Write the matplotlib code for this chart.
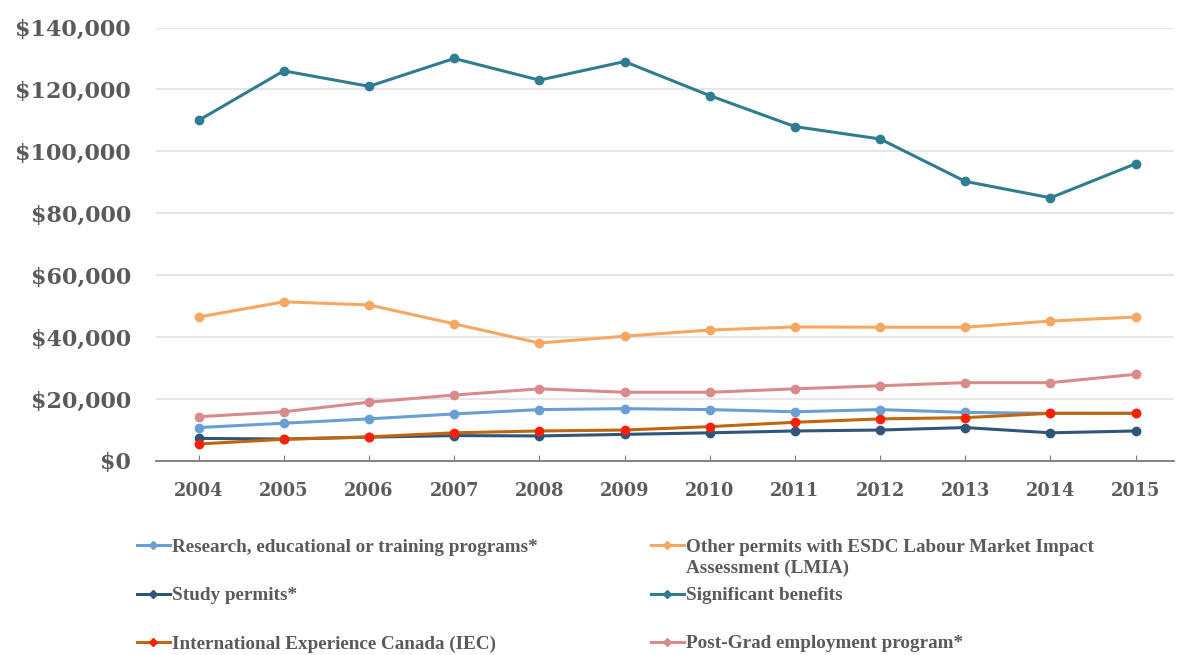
import matplotlib
matplotlib.use("Agg")
import matplotlib.pyplot as plt
from matplotlib.lines import Line2D
from matplotlib.ticker import FuncFormatter

W, H = 1177, 655
years = list(range(2004, 2016))

research = [10800, 12200, 13600, 15200, 16600, 16900, 16600, 15900, 16600, 15700, 15400, 15400]
lmia = [46500, 51400, 50400, 44300, 38100, 40300, 42300, 43300, 43200, 43200, 45200, 46500]
study = [7300, 7100, 7700, 8200, 8100, 8600, 9100, 9700, 10000, 10800, 9100, 9700]
significant = [110000, 126000, 121000, 130000, 123000, 129000, 118000, 108000, 104000, 90300, 85000, 96000]
iec = [5500, 7000, 7800, 9100, 9700, 10000, 11100, 12500, 13600, 14000, 15400, 15400]
postgrad = [14300, 15900, 19000, 21300, 23300, 22200, 22200, 23300, 24300, 25300, 25300, 28000]

labels = ["Research, educational or training programs*",
          "Other permits with ESDC Labour Market Impact\nAssessment (LMIA)",
          "Study permits*",
          "Significant benefits",
          "International Experience Canada (IEC)",
          "Post-Grad employment program*"]

series = [
    (research, "#6a9fd3", "#6a9fd3"),
    (lmia, "#f5a862", "#f5a862"),
    (study, "#2f5679", "#2f5679"),
    (significant, "#2f7d8e", "#2f7d8e"),
    (iec, "#c2650f", "#ff2000"),
    (postgrad, "#d98b8b", "#d98b8b"),
]

gray = "#5a5a5a"
fig = plt.figure(figsize=(W / 100, H / 100), dpi=100)
ax = fig.add_axes([156 / W, 1 - 461 / H, (1174 - 156) / W, (461 - 27.5) / H])

order = [5, 0, 2, 4, 1, 3]
for i in order:
    vals, lc, mc = series[i]
    ax.plot(years, vals, color=lc, lw=2.2, marker="o", ms=6, mfc=mc, mec=mc,
            clip_on=False, zorder=3 + i)

ax.set_xlim(2003.5, 2015.45)
ax.set_ylim(0, 140000)
ax.set_yticks(range(0, 140001, 20000))
ax.set_xticks(years)
ax.yaxis.set_major_formatter(FuncFormatter(lambda v, p: "${:,.0f}".format(v)))
ax.grid(axis="y", color="#e6e6e6", lw=1.5, zorder=0)
for s in ["top", "right", "left"]:
    ax.spines[s].set_visible(False)
ax.spines["bottom"].set_color("#7a7a7a")
ax.spines["bottom"].set_linewidth(1.3)
ax.tick_params(axis="y", length=0, pad=18, labelsize=16, labelcolor=gray)
ax.tick_params(axis="x", direction="in", length=4, color="#7a7a7a", pad=15,
               labelsize=12.8, labelcolor=gray)
for t in ax.get_yticklabels() + ax.get_xticklabels():
    t.set_fontfamily("DejaVu Serif")
    t.set_fontweight("bold")

# legend
pos = [(137, 545), (651, 545), (137, 594), (651, 594), (137, 642), (651, 642)]
for i, (px, py) in enumerate(pos):
    vals, lc, mc = series[i]
    fx0, fx1 = px / W, (px + 33) / W
    fy = 1 - py / H
    fig.add_artist(Line2D([fx0, fx1], [fy, fy], color=lc, lw=2.2,
                          transform=fig.transFigure))
    fig.add_artist(Line2D([(px + 16) / W], [fy], marker="D", ms=4.5, color=mc,
                          transform=fig.transFigure))
    fig.text((px + 35) / W, fy + 6.5 / H, labels[i], ha="left", va="top",
             fontsize=13.8, fontweight="bold", family="Liberation Serif",
             color=gray, linespacing=1.3)

fig.savefig("out.png", dpi=100, facecolor="white")
